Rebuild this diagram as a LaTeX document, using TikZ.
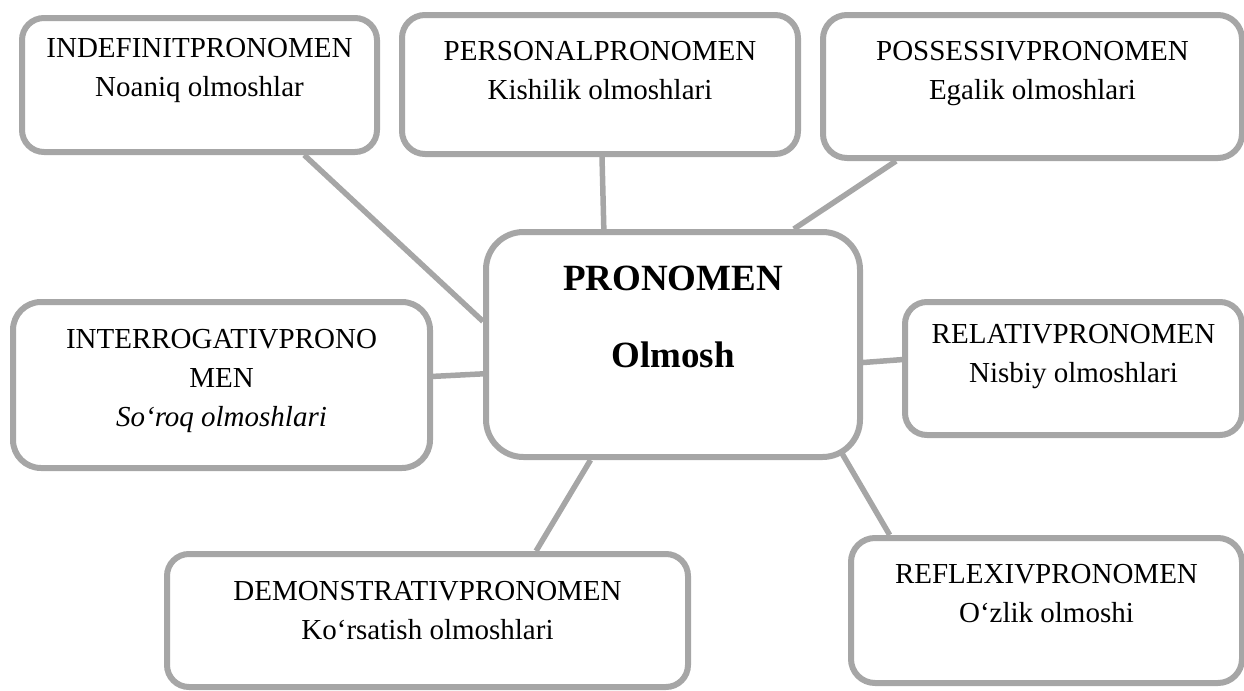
\documentclass[tikz,border=0pt]{standalone}
\usepackage{fontspec}
\setmainfont{Liberation Serif}
\usepackage{tikz}
\usetikzlibrary{calc,backgrounds}

\definecolor{rimgray}{RGB}{166,166,166}
% Text oben im Kasten: Breite, Hoehe, Abstand oben, Zeilen
\newcommand{\boxtext}[4]{\parbox[c][#2][t]{#1}{\centering\vspace*{#3}#4}}

\begin{document}
\begin{tikzpicture}[x=0.5pt, y=-0.5pt,
  pbox/.style={draw=rimgray, line width=3pt, fill=white, inner sep=0pt,
    rounded corners=11pt, font=\fontsize{14.5}{19.5}\selectfont},
  link/.style={draw=rimgray, line width=2.75pt}]

\useasboundingbox (0,0) rectangle (1244,691);

% Mittelkasten
\node[pbox, rounded corners=18.75pt, font=\fontsize{18.5}{38.5}\selectfont\bfseries] (pron) at (673,344.5)
  {\boxtext{187pt}{112.5pt}{16.8pt}{PRONOMEN\\Olmosh}};

% Kasten oben
\node[pbox] (indef) at (199.5,85)
  {\boxtext{177.5pt}{67pt}{9.9pt}{INDEFINITPRONOMEN\\Noaniq olmoshlar}};
\node[pbox, rounded corners=11.5pt] (pers) at (600,84.5)
  {\boxtext{198pt}{69.5pt}{12.9pt}{PERSONALPRONOMEN\\Kishilik olmoshlari}};
\node[pbox, rounded corners=12pt] (poss) at (1032.5,86.5)
  {\boxtext{209.5pt}{71.5pt}{12.9pt}{POSSESSIVPRONOMEN\\Egalik olmoshlari}};

% Kasten links und rechts
\node[pbox, rounded corners=14pt] (interr) at (221.5,385)
  {\boxtext{208.5pt}{83pt}{13.4pt}{INTERROGATIVPRONO\\MEN\\\textit{So‘roq olmoshlari}}};
\node[pbox] (relat) at (1073.5,368.5)
  {\boxtext{168.5pt}{66.5pt}{10.9pt}{RELATIVPRONOMEN\\Nisbiy olmoshlari}};

% Kasten unten
\node[pbox] (demon) at (427.5,620.5)
  {\boxtext{260.5pt}{66.5pt}{13.4pt}{DEMONSTRATIVPRONOMEN\\Ko‘rsatish olmoshlari}};
\node[pbox, rounded corners=12pt] (reflex) at (1046.5,610.5)
  {\boxtext{195.5pt}{72.5pt}{12.9pt}{REFLEXIVPRONOMEN\\O‘zlik olmoshi}};

% Verbindungen
\begin{scope}[on background layer]
\draw[link] ($(indef.south west)!.79!(indef.south east)$) -- ($(pron.north west)!.4!(pron.south west)$);
\draw[link] ($(pers.south west)!.505!(pers.south east)$) -- ($(pron.north west)!.318!(pron.north east)$);
\draw[link] ($(poss.south west)!.179!(poss.south east)$) -- ($(pron.north west)!.818!(pron.north east)$);
\draw[link] ($(interr.north east)!.45!(interr.south east)$) -- ($(pron.north west)!.627!(pron.south west)$);
\draw[link] ($(pron.north east)!.578!(pron.south east)$) -- ($(relat.north west)!.436!(relat.south west)$);
\draw[link] ($(pron.south west)!.283!(pron.south east)$) -- ($(demon.north west)!.706!(demon.north east)$);
\draw[link] ($(pron.south east)+(-23,-10)$) -- ($(reflex.north west)!.105!(reflex.north east)$);
\end{scope}

\end{tikzpicture}
\end{document}
